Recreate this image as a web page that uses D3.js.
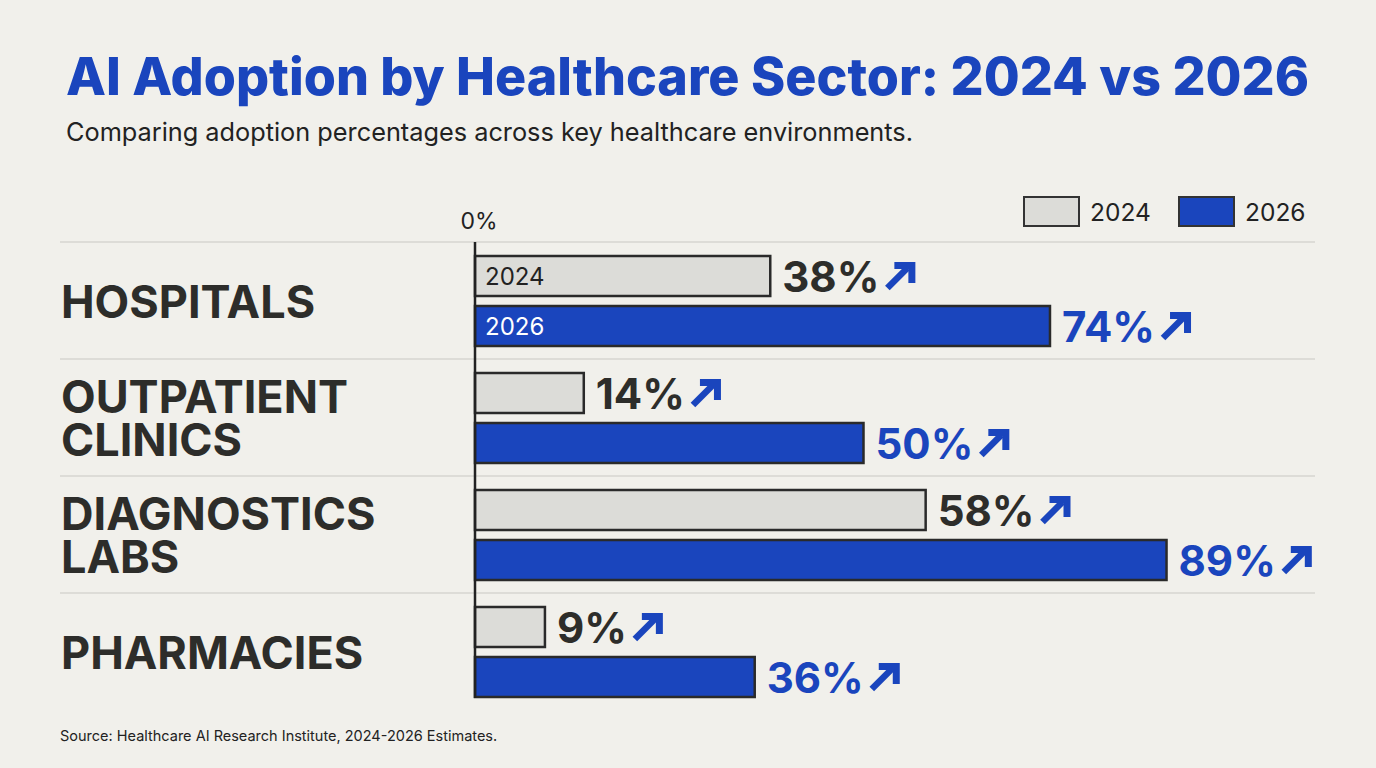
<!DOCTYPE html>
<html>
<head>
<meta charset="utf-8">
<script src="https://cdn.jsdelivr.net/npm/d3@7"></script>
<style>
  html, body { margin: 0; padding: 0; background: #f1f0eb; }
  svg { display: block; font-family: Inter, "Noto Sans", sans-serif; }
</style>
</head>
<body>
<div id="chart"></div>
<script>
// --- data ---
const sectors = ['HOSPITALS', 'OUTPATIENT CLINICS', 'DIAGNOSTICS LABS', 'PHARMACIES'];
const sectorLines = [['HOSPITALS'], ['OUTPATIENT', 'CLINICS'], ['DIAGNOSTICS', 'LABS'], ['PHARMACIES']];
const years = ['2024', '2026'];
const adoption2024 = [38, 14, 58, 9];
const adoption2026 = [74, 50, 89, 36];
const axisTicks = [0];

const W = 1376, H = 768;
const BLUE = '#1a45bd', DARK = '#2d2d2a', GRAY = '#dcdcd8';

const svg = d3.select('#chart').append('svg')
  .attr('width', W).attr('height', H);

svg.append('rect').attr('width', W).attr('height', H).attr('fill', '#f1f0eb');

// Title + subtitle
svg.append('text')
  .attr('x', 66).attr('y', 95)
  .attr('font-size', '52px').attr('font-weight', 800)
  .attr('fill', BLUE)
  .text('AI Adoption by Healthcare Sector: 2024 vs 2026');

svg.append('text')
  .attr('x', 66).attr('y', 141)
  .attr('font-size', '25.3px')
  .attr('fill', '#222')
  .text('Comparing adoption percentages across key healthcare environments.');

// Scales
const x = d3.scaleLinear().domain([0, 100]).range([475, 1252]);
const yRow = d3.scaleBand().domain(sectors).range([242, 710]);
const yBar = d3.scaleBand().domain(years).range([14, 104]).paddingInner(0.2);

const rows = sectors.map((s, i) => ({
  sector: s,
  lines: sectorLines[i],
  values: [
    { year: '2024', v: adoption2024[i] },
    { year: '2026', v: adoption2026[i] }
  ]
}));

// Row separators
svg.append('g').selectAll('line')
  .data(sectors)
  .join('line')
  .attr('x1', 60).attr('x2', 1315)
  .attr('y1', d => yRow(d)).attr('y2', d => yRow(d))
  .attr('stroke', '#d6d6d1').attr('stroke-width', 1.5);

// 0% tick label
svg.append('g').selectAll('text')
  .data(axisTicks)
  .join('text')
  .attr('x', d => x(d) + 4).attr('y', 229)
  .attr('text-anchor', 'middle')
  .attr('font-size', '23px').attr('fill', '#222')
  .text(d => d + '%');

// Legend
const legend = svg.append('g');
[{ year: '2024', x: 1024 }, { year: '2026', x: 1179 }].forEach(l => {
  legend.append('rect')
    .attr('x', l.x).attr('y', 197).attr('width', 55).attr('height', 29)
    .attr('fill', l.year === '2024' ? GRAY : BLUE)
    .attr('stroke', '#333').attr('stroke-width', 2);
  legend.append('text')
    .attr('x', l.x + 66).attr('y', 221)
    .attr('font-size', '24.5px').attr('fill', '#222')
    .text(l.year);
});

// Arrow glyph (↗)
function arrow(g, ax, ay, color) {
  const a = g.append('g').attr('transform', `translate(${ax},${ay})`);
  a.append('line')
    .attr('x1', 2).attr('y1', 26).attr('x2', 22).attr('y2', 6)
    .attr('stroke', color).attr('stroke-width', 6.5);
  a.append('path')
    .attr('d', 'M9,3.5 L26.5,3.5 L26.5,21')
    .attr('fill', 'none').attr('stroke', color).attr('stroke-width', 7)
    .attr('stroke-linejoin', 'miter');
}

// Rows
rows.forEach(r => {
  const y0 = yRow(r.sector);
  const g = svg.append('g').attr('transform', `translate(0,${y0})`);
  const mid = yRow.bandwidth() / 2;

  // sector label (one text, one tspan per line)
  const n = r.lines.length;
  const lbl = g.append('text')
    .attr('font-size', '45px').attr('font-weight', 700)
    .attr('fill', DARK);
  r.lines.forEach((ln, i) => {
    lbl.append('tspan')
      .attr('x', 61)
      .attr('y', mid + 17 + (i - (n - 1) / 2) * 43)
      .text(ln);
  });

  r.values.forEach(d => {
    const by = yBar(d.year), bh = yBar.bandwidth();
    const is24 = d.year === '2024';
    g.append('rect')
      .attr('x', x(0)).attr('y', by)
      .attr('width', x(d.v) - x(0)).attr('height', bh)
      .attr('fill', is24 ? GRAY : BLUE)
      .attr('stroke', '#2a2a2a').attr('stroke-width', 2.5);

    if (r.sector === 'HOSPITALS') {
      g.append('text')
        .attr('x', x(0) + 10).attr('y', by + bh / 2 + 9)
        .attr('font-size', '24px')
        .attr('fill', is24 ? '#222' : '#fff')
        .text(d.year);
    }

    const t = g.append('text')
      .attr('x', x(d.v) + 12).attr('y', by + bh / 2 + 16)
      .attr('font-size', '42px').attr('font-weight', 700)
      .attr('fill', is24 ? DARK : BLUE)
      .text(d.v + '%');
    const tw = t.node().getComputedTextLength();
    arrow(g, x(d.v) + 12 + tw + 6, by + bh / 2 - 14, BLUE);
  });
});

// Axis line
svg.append('line')
  .attr('x1', x(0)).attr('x2', x(0))
  .attr('y1', 242).attr('y2', 698)
  .attr('stroke', '#222').attr('stroke-width', 2.5);

// Source
svg.append('text')
  .attr('x', 60).attr('y', 741)
  .attr('font-size', '14.5px').attr('fill', '#222')
  .text('Source: Healthcare AI Research Institute, 2024-2026 Estimates.');
</script>
</body>
</html>
